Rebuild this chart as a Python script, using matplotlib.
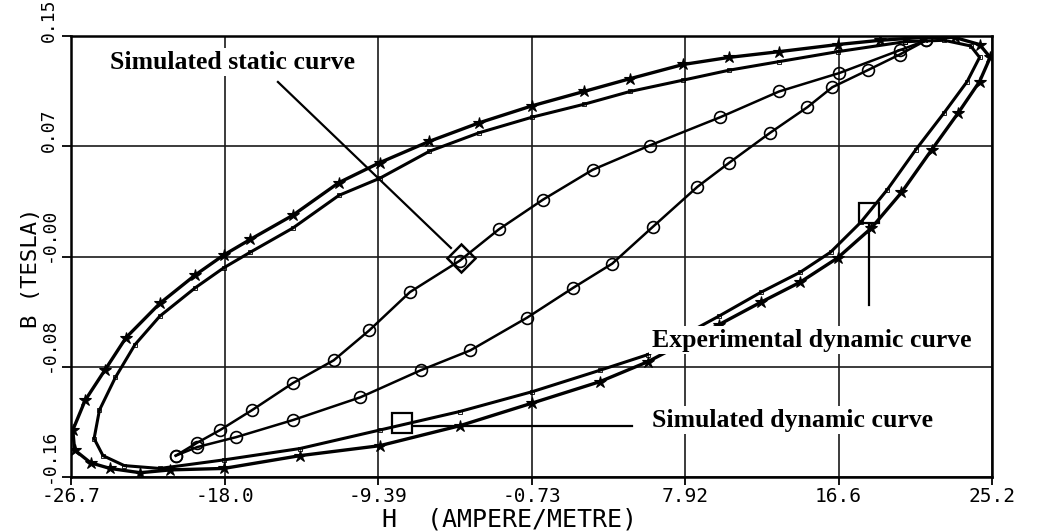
import matplotlib
matplotlib.use("Agg")
import matplotlib.pyplot as plt
from matplotlib.transforms import ScaledTranslation

plt.rcParams['font.family'] = ['DejaVu Sans Mono']

# experimental dynamic loop (outer band, star markers)
H_exp = [21.3, 18.9, 16.5, 13.2, 10.4, 7.8, 4.8, 2.2, -0.7, -3.7,
         -6.5, -9.3, -11.6, -14.2, -16.6, -18.1, -19.7, -21.7, -23.6, -24.8,
         -25.9, -26.6, -26.5, -25.6, -24.5, -22.8, -21.1, -18.1, -13.8, -9.3,
         -4.8, -0.7, 3.1, 5.8, 9.8, 12.2, 14.4, 16.5, 18.4, 20.1,
         21.8, 23.3, 24.5, 25.1, 24.5, 23.1, 21.3]
B_exp = [0.149, 0.147, 0.144, 0.139, 0.135, 0.130, 0.120, 0.111, 0.101, 0.089,
         0.076, 0.061, 0.047, 0.024, 0.007, -0.004, -0.018, -0.038, -0.062, -0.085,
         -0.106, -0.127, -0.141, -0.150, -0.154, -0.157, -0.155, -0.154, -0.145, -0.138,
         -0.124, -0.108, -0.093, -0.079, -0.053, -0.037, -0.023, -0.006, 0.015, 0.040,
         0.070, 0.096, 0.118, 0.135, 0.144, 0.149, 0.149]

# simulated dynamic loop (inner band)
H_sim = [20.3, 16.5, 13.2, 10.4, 7.8, 4.8, 2.2, -0.7, -3.7, -6.5,
         -9.3, -11.6, -14.2, -16.6, -18.1, -19.7, -21.7, -23.1, -24.2, -25.1,
         -25.4, -24.9, -23.7, -21.7, -18.1, -13.8, -9.3, -4.8, -0.7, 3.1,
         5.8, 9.8, 12.2, 14.4, 16.1, 17.8, 19.3, 20.9, 22.5, 23.8,
         24.5, 24.0, 22.5, 20.3]
B_sim = [0.146, 0.139, 0.132, 0.126, 0.119, 0.111, 0.102, 0.093, 0.082, 0.069,
         0.050, 0.038, 0.015, -0.002, -0.013, -0.027, -0.047, -0.067, -0.090, -0.113,
         -0.133, -0.145, -0.152, -0.154, -0.148, -0.140, -0.127, -0.114, -0.100, -0.085,
         -0.074, -0.047, -0.030, -0.016, -0.002, 0.019, 0.042, 0.070, 0.096, 0.118,
         0.135, 0.143, 0.147, 0.146]

# simulated static loop (circle markers)
H_stat_up = [21.5, 20.0, 16.6, 13.2, 9.9, 5.9, 2.7, -0.1, -2.6, -4.8,
             -7.6, -9.9, -11.9, -14.2, -16.5, -18.3, -19.6, -20.8]
B_stat_up = [0.147, 0.140, 0.124, 0.111, 0.093, 0.073, 0.056, 0.035, 0.014, -0.008,
             -0.030, -0.057, -0.078, -0.094, -0.113, -0.127, -0.136, -0.145]
H_stat_lo = [-20.8, -19.6, -17.4, -14.2, -10.4, -7.0, -4.2, -1.0, 1.6, 3.8,
             6.1, 8.6, 10.4, 12.7, 14.8, 16.2, 18.2, 20.0, 21.5]
B_stat_lo = [-0.145, -0.139, -0.132, -0.120, -0.104, -0.085, -0.071, -0.048, -0.027, -0.010,
             0.016, 0.044, 0.061, 0.082, 0.100, 0.114, 0.126, 0.137, 0.147]

xtick_vals = [-26.7, -18.05, -9.40, -0.75, 7.90, 16.55, 25.2]
xtick_labels = ['-26.7', '-18.0', '-9.39', '-0.73', '7.92', '16.6', '25.2']
ytick_vals = [-0.16, -0.0825, -0.005, 0.0725, 0.15]
ytick_labels = ['-0.16', '-0.08', '-0.00', '0.07', '0.15']

fig = plt.figure(figsize=(10.37, 5.32), dpi=100)
ax = fig.add_axes([0.0685, 0.1034, 0.8881, 0.8289])

ax.set_xlim(-26.7, 25.2)
ax.set_ylim(-0.16, 0.15)
ax.set_xticks(xtick_vals)
ax.set_xticklabels(xtick_labels)
ax.set_yticks(ytick_vals)
ax.set_yticklabels(ytick_labels, rotation=90, va='bottom')
ax.tick_params(axis='x', length=6, width=1.3, pad=1.5, labelsize=14)
ax.tick_params(axis='y', length=6.5, width=1.3, pad=3, labelsize=13)
# rotated y labels sit just above their tick, like the plotter output
shift = ScaledTranslation(0, -4 / 72, fig.dpi_scale_trans)
for lab in ax.get_yticklabels():
    lab.set_transform(lab.get_transform() + shift)
ax.grid(True, color='#1a1a1a', lw=1.2)
ax.set_axisbelow(True)
for s in ax.spines.values():
    s.set_linewidth(1.8)

# dynamic loops
ax.plot(H_sim, B_sim, color='black', lw=2.2)
ax.plot(H_sim, B_sim, color='black', lw=0.8, ls=(0, (3, 2)), marker='s',
        ms=3, mfc='none', mew=0.6)
ax.plot(H_exp, B_exp, color='black', lw=2.4, marker='*', ms=9, mew=0.8)

# static loop
ax.plot(H_stat_up, B_stat_up, color='black', lw=1.8, marker='o', ms=8.5,
        mfc='none', mew=1.2)
ax.plot(H_stat_lo, B_stat_lo, color='black', lw=1.8, marker='o', ms=8.5,
        mfc='none', mew=1.2)

# annotations
txt = dict(family='Liberation Serif', weight='bold', fontsize=18.5, va='center',
           ha='left', zorder=10,
           bbox=dict(facecolor='white', edgecolor='none', pad=2))
ax.text(-24.5, 0.1317, 'Simulated static curve', **txt)
ax.text(6.03, -0.0637, 'Experimental dynamic curve', **txt)
ax.text(6.03, -0.120, 'Simulated dynamic curve', **txt)

ax.plot([-15.04, -5.29], [0.1177, 0.001], color='black', lw=1.6, zorder=5)
ax.plot([-4.73], [-0.0061], marker='D', ms=14, mfc='none', mec='black',
        mew=1.8, zorder=6)

ax.plot([18.26, 18.26], [0.0178, -0.0391], color='black', lw=1.6, zorder=5)
ax.plot([18.26], [0.0256], marker='s', ms=15, mfc='none', mec='black',
        mew=1.6, zorder=6)

ax.plot([-7.43, 4.91], [-0.1242, -0.1242], color='black', lw=1.6, zorder=5)
ax.plot([-8.05], [-0.122], marker='s', ms=15, mfc='none', mec='black',
        mew=1.6, zorder=6)

fig.text(509 / 1037, 1 - 520 / 532, 'H  (AMPERE/METRE)', fontsize=18,
         ha='center', va='center')
fig.text(31 / 1037, 1 - 268 / 532, 'B (TESLA)', fontsize=16, rotation=90,
         ha='center', va='center')

fig.savefig('out.png', dpi=100)
